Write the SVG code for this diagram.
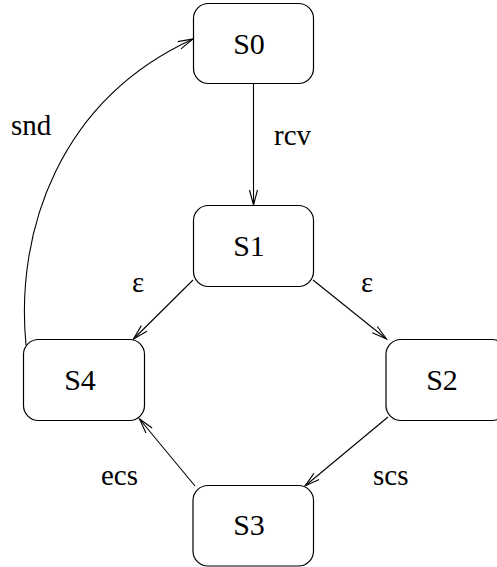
<svg xmlns="http://www.w3.org/2000/svg" width="497" height="567" viewBox="0 0 497 567">
  <style>
    .box { fill: #ffffff; stroke: #000000; stroke-width: 1.2; }
    .name { font-size: 30px; fill: #000000; text-anchor: middle; }
    .lbl { font-size: 29px; fill: #000000; }
    .edge { fill: none; stroke: #000000; stroke-width: 1.1; marker-end: url(#arrow); }
  </style>
  <defs>
    <marker id="arrow" markerUnits="userSpaceOnUse" markerWidth="20" markerHeight="12" viewBox="-16 -6 20 12" refX="0" refY="0" orient="auto">
      <path d="M -15 -4 L 0 0 L -15 4" fill="none" stroke="#000000" stroke-width="1.1"/>
    </marker>
  </defs>

  <rect width="497" height="567" fill="#ffffff"/>

  <g id="connectors" font-family="'Liberation Serif', 'DejaVu Serif', serif">
    <path class="edge" d="M 253.5 83.5 L 253.5 205"/>
    <path class="edge" d="M 193 280 L 133.5 339"/>
    <path class="edge" d="M 313 280 L 386.5 339"/>
    <path class="edge" d="M 388 417 L 305 486"/>
    <path class="edge" d="M 195 486 L 139.5 419"/>
    <path class="edge" d="M 26 345 C 15 230, 60 100, 193 39"/>
    <text class="lbl" x="274" y="145">rcv</text>
    <text class="lbl" x="11" y="135">snd</text>
    <text class="lbl" x="132" y="292">ε</text>
    <text class="lbl" x="361" y="292">ε</text>
    <text class="lbl" x="101" y="485">ecs</text>
    <text class="lbl" x="373" y="485">scs</text>
  </g>

  <g id="S0" font-family="'Liberation Serif', 'DejaVu Serif', serif">
    <rect class="box" x="193.5" y="3.5" width="120" height="80" rx="15"/>
    <text class="name" x="249" y="54">S0</text>
  </g>
  <g id="S1" font-family="'Liberation Serif', 'DejaVu Serif', serif">
    <rect class="box" x="193.5" y="205.5" width="120" height="81" rx="15"/>
    <text class="name" x="249" y="256">S1</text>
  </g>
  <g id="S2" font-family="'Liberation Serif', 'DejaVu Serif', serif">
    <rect class="box" x="386" y="339.5" width="121" height="81" rx="15"/>
    <text class="name" x="442" y="390">S2</text>
  </g>
  <g id="S3" font-family="'Liberation Serif', 'DejaVu Serif', serif">
    <rect class="box" x="193" y="485.5" width="120.5" height="80.5" rx="15"/>
    <text class="name" x="249" y="535">S3</text>
  </g>
  <g id="S4" font-family="'Liberation Serif', 'DejaVu Serif', serif">
    <rect class="box" x="23.5" y="339.5" width="121" height="81" rx="15"/>
    <text class="name" x="80" y="390">S4</text>
  </g>
</svg>
